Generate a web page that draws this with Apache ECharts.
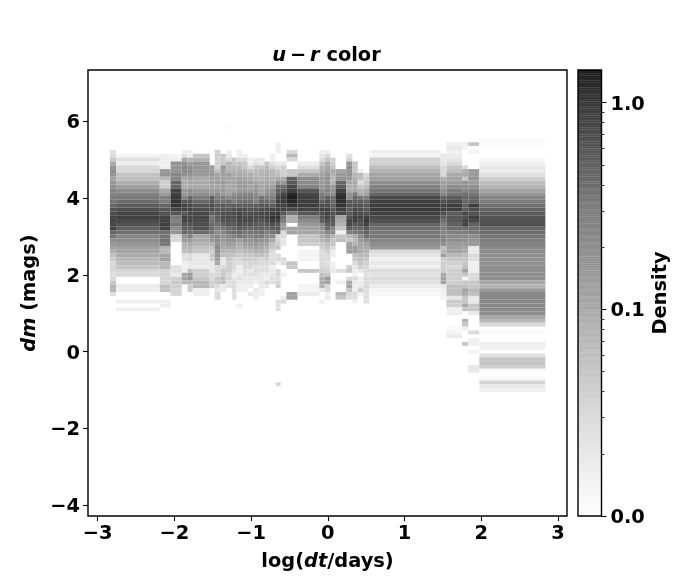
<!DOCTYPE html>
<html><head><meta charset="utf-8">
<style>html,body{margin:0;padding:0;background:#fff}#c{width:700px;height:580px}</style>
<script src="https://cdn.jsdelivr.net/npm/echarts@6/dist/echarts.min.js"></script>
</head><body><div id="c"></div>
<script>
const xEdges=[-2.84,-2.76,-2.19,-2.05,-1.905,-1.83,-1.76,-1.54,-1.475,-1.40,-1.33,-1.25,-1.19,-1.11,-1.045,-.97,-.90,-.825,-.76,-.68,-.615,-.54,-.395,-.11,-.04,.035,.10,.24,.32,.39,.465,.54,1.47,1.545,1.75,1.83,1.975,2.835];
const columnTop=[5.25,5.15,5.15,5.15,5.25,5.25,5.15,4.85,5.25,5.15,5.25,5.05,5.25,5.15,5.05,5.05,5.05,4.95,5.15,5.45,4.95,5.25,4.95,5.25,5.25,5.05,4.75,5.15,4.95,4.75,4.65,5.25,5.15,5.45,5.45,5.45,5.55];
const bandHeight=0.1;
const c01=[.025,.028,.045,.1,.16,.2,.16,.125,.16,.2,.25,.25,.3,.36,.47,.65,.72,.8,.9,.8,.85,.47,.36,.2,.16,.125,.085,.06,.045,.03,.035,.03,.025,.03,.045,.07,.07,.025];
const c02=[.014,.025,.016,.03,.032,.055,.06,.09,.13,.2,.27,.33,.42,.55,.72,.85,.9,.75,.65,.5,.4,.24,.2,.16,.13,.12,.1,.07,.065,.05,.035,.03,0,0,.018,.016,0,0,.016,0,.016];
const c03=[.016,.016,.016,.016,.15,.17,.07,.04,.04,.1,.14,.27,.3,.47,.6,.62,.85,.85,.9,.85,.38,.36,.36,.34,.08,.07,.12,.12,.07,.07,.035,.035,.035,.035,.055,.055,0,0,.016,.016];
const c04=[.014,.016,.17,.17,.17,.24,.24,.45,.45,.85,.9,1.0,1.1,1.1,.85,.62,.3,.27,.35,.2,.17,.032,.03,0,0,0,0,0,0,.025,.025,.018,.04,.045,.04,.035,.035];
const c05=[.016,.025,.1,.2,.24,.22,.2,.1,.09,.09,.16,.16,.24,.6,.85,.85,.6,.9,.85,.6,.55,.45,.17,.15,.08,.07,.06,.025,.025,.016,.016,.016,.11,.12,.07];
const c06=[.016,.016,.07,.13,.2,.22,.18,.13,.11,.1,.2,.2,.45,.62,.75,.85,.8,.75,.8,.65,.5,.4,.3,.15,.1,.08,.07,.03,.03,.02,.02,.06,.14,.16,.07,.04,.04];
const c07=[.05,.08,.16,.16,.16,.14,.1,.1,.1,.15,.2,.3,.45,.62,.72,.8,.8,.75,.7,.65,.42,.11,.1,.08,.055,.05,.02,.02,.02,.018,.04,.04,.05,.07,.07,.016,.016];
const c08=[.14,.14,.16,.12,.13,.12,.14,.18,.55,.6,.75,.75,.55,.35,.4,.45,.42,.35,.2,.15,.08,.05,.04,.05,.04,.02,.02,.02,.03,.03,.04,.04];
const c09=[.04,.04,.04,.04,.035,.06,.11,.13,.13,.11,.15,.2,.27,.4,.55,.6,.6,.55,.5,.4,.3,.22,.22,.2,.18,.22,.2,.17,.13,.11,.03,.03,.03,.05,.05,.03,.02,.03,.03];
const c10=[.05,.05,.05,.16,.14,.13,.12,.15,.14,.15,.15,.3,.38,.6,.62,.7,.7,.65,.5,.35,.25,.18,.15,.12,.1,.08,.06,.02,.02,.03,.045,.05,.06,.06,.018,.018];
const c11=[.016,.02,.03,.07,.07,.08,.13,.11,.11,.1,.12,.13,.22,.4,.5,.6,.72,.72,.65,.6,.4,.35,.22,.17,.14,.1,.07,.06,.05,.04,.04,.04,.03,.035,.025,.025];
const c12=[.05,.05,.07,.08,.1,.11,.11,.11,.12,.2,.27,.3,.55,.68,.72,.7,.65,.55,.45,.42,.28,.18,.13,.1,.08,.055,.035,.03,.03,.025,.016,.02,.03,.03,.025,.025,.025];
const c13=[.016,.016,.03,.05,.07,.09,.1,.13,.15,.16,.15,.22,.3,.4,.55,.72,.85,.85,.8,.7,.55,.45,.35,.14,.1,.08,.06,.045,.035,.03,.016,.016,.02,.025,.018,.016,.016,0,0,0,.016];
const c14=[.016,.03,.05,.05,.08,.09,.11,.14,.15,.16,.25,.3,.4,.55,.7,.72,.75,.8,.65,.5,.35,.3,.2,.14,.1,.07,.05,.045,.03,.03,.025,.025,.02,.018,.016,.016];
const c15=[.016,.016,.03,.06,.09,.1,.13,.12,.14,.25,.3,.4,.55,.65,.72,.8,.8,.65,.45,.35,.25,.17,.14,.1,.07,.05,.04,.035,.03,.02,.025,.02,.02,.016,0,.02];
const c16=[.02,.025,.05,.06,.07,.09,.12,.15,.17,.2,.25,.3,.55,.65,.75,.75,.7,.6,.5,.35,.3,.2,.16,.12,.09,.055,.04,.035,.025,.03,.025,.018,.016,0,.02,.016,.016];
const c17=[.02,.02,.05,.07,.08,.08,.1,.11,.12,.13,.35,.45,.6,.75,.8,.75,.65,.55,.5,.4,.3,.18,.13,.1,.08,.06,.035,.03,.025,.025,.02,.02,.02,.018,.016,.016];
const c18=[.05,.07,.08,.09,.1,.12,.13,.16,.2,.3,.45,.6,.8,.85,.85,.75,.6,.45,.3,.22,.17,.12,.08,.07,.05,.04,.03,.025,.025,.018,.016,.03,.02];
const c19=[.016,.016,.025,.04,.07,.07,.09,.1,.13,.18,.22,.27,.4,.55,.85,.95,1.05,1.0,.7,.55,.35,.22,.1,.06,.05,.03,.025,.025,.03,.016,.018,.02,.025,.025];
const c20=[.016,.016,.016,0,0,.02,.03,.05,.06,.1,.2,.4,.5,.6,.8,.9,.9,.9,1.0,1.1,.9,.6,.6,.45,.03,.035,.04,.05,0,.03,.03,.016,0,.03,.03,.025,.035,.04,0,0,0,.025,.025,.025];
const c21=[.02,.04,.04,.04,.1,.15,.4,.55,.85,1.0,1.0,.9,.85,.6,.35,.3,.15,.15,.03,.03,.02,.02,0,0,0,.03,.025,0,0,.016,0,0,0,0,0,.016,.03];
const c22=[.03,.07,.03,0,0,.05,.05,.5,.6,.75,.9,1.3,1.4,1.3,1.1,.8,.35,.09,.09,0,.12,.12,0,0,0,0,0,0,0,.05,.045,0,0,0,0,0,0,.12,.12];
const c23=[.016,.025,.05,.1,.2,.22,.25,.6,.8,.9,.95,.95,.85,.6,.3,.22,.15,.12,.11,.05,.05,.04,0,.014,.014,.014,0,0,.05,0,0,0,.014,.014,.018];
const c24=[.016,.02,.03,.05,.08,.1,.12,.14,.15,.16,.2,.3,.35,.5,.7,.85,.7,.6,.55,.25,.18,.14,.1,.07,.05,.04,.03,.03,.03,.03,.03,.04,.06,.09,.1,.08,.02,0,0,.016];
const c25=[.016,.03,.05,.09,.11,.12,.16,.18,.18,.22,.25,.25,.5,.65,.72,.85,.9,.8,.7,.55,.45,.25,.14,.1,.06,.05,.04,.03,.03,.025,.03,.035,.05,.15,.12,.03,.03,.016,.02];
const c26=[.04,.04,.05,.1,.08,.07,.07,.15,.17,.2,.4,.45,.5,.6,.65,.65,.6,.55,.25,.22,.08,.05,.05,.03,.016,.016,0,.016,.016,.02];
const c27=[.12,.15,.17,.45,.55,.85,1.1,1.2,1.15,1.1,.9,.8,.12,.1,.08,.05,.015,.05,.06,0,0,0,0,0,0,0,.025,0,0,.016,0,0,.07,.05];
const c28=[.025,.035,.16,.2,.18,.17,.15,.1,.09,.1,.17,.2,.6,.65,.55,.6,.65,.85,.8,.55,.3,.07,.05,.12,.14,.14,0,0,0,.04,.05,0,.03,.1,.12,.05,.03,.025];
const c29=[.05,.05,.05,.08,.09,.1,.1,.11,.3,.45,.55,.7,.8,.85,.9,.9,.6,.45,.35,.1,.07,.08,.15,.14,.06,.05,.03,.02,.016,.016,.03,.02,.016,.016,.03,.025,.016];
const c30=[.016,.07,.06,.025,.05,.08,.1,.35,.55,.65,.7,.72,.85,.7,.65,.45,.38,.2,.14,.11,.1,.1,.07,.06,.05,.04,.02,0,.016,.016,.02,.04,.016];
const c31=[.03,.04,.045,.06,.1,.12,.3,.5,.6,.6,.65,.9,1.05,.9,.6,.5,.4,.2,.12,.1,.08,.07,.05,.04,.03,.028,.025,.028,.03,.03,.025,.025,.025,.025];
const c32=[.016,.014,.04,.04,.06,.08,.11,.13,.2,.27,.35,.47,.75,.9,.95,1.0,.9,.75,.65,.45,.4,.35,.34,.25,.2,.16,.03,.022,.016,.02,.016,.028,.024,.03,.025,.018,.014,.012];
const c33=[.02,.02,.022,.03,.03,.03,.09,.13,.14,.2,.25,.5,.7,.85,.9,.7,.5,.4,.3,.3,.25,.27,.25,.2,.06,.07,.13,.04,.04,.04,.04,.1,.12,.12,.02,.016,.014,.014];
const c34=[.016,.02,.016,.018,.022,.03,.05,.06,.1,.12,.14,.2,.3,.35,.55,.75,.95,.9,.55,.6,.62,.5,.4,.28,.22,.2,.15,.13,.12,.07,.05,.04,.03,.04,.04,.04,.04,.06,.06,.06,.02,.045,.04,.016,.016,0,0,0,.012,.014,.018];
const c35=[.016,.014,0,0,0,0,.03,.09,.1,.05,.17,.2,.25,.4,.45,.45,.5,.55,.8,.7,.85,.85,.4,.3,.22,.18,.15,.11,.1,.06,.05,.05,.06,.12,.05,.014,.05,.06,.12,.1,.05,.05,.1,.05,0,0,.08,.05,.016,0,0,0,.05];
const c36=[.05,0,.014,0,0,0,0,.14,.14,.17,.14,.2,.28,.35,.45,.5,.95,.7,.65,.9,.8,.5,.4,.35,.2,.17,.16,.02,.018,.03,.025,.016,.016,.016,.03,.03,.05,.05,.07,.06,.02,.02,.05,.05,.018,0,0,0,0,.03,0,.016,.016,0,.014,0,0,0,.02,.02];
const c37=[.012,.011,0,0,0,.012,.016,.02,.018,.025,.04,.06,.08,.12,.17,.25,.3,.4,.47,.55,.62,.65,.68,.47,.42,.37,.3,.27,.24,.22,.2,.2,.2,.2,.2,.2,.2,.11,.08,.16,.23,.24,.24,.23,.22,.2,.11,.07,.03,0,.012,0,0,.016,.016,0,.025,.05,.055,.04,.011,0,.012,.035,.02,.016];
const densityColumns=[c01,c02,c03,c04,c05,c06,c07,c08,c09,c10,c11,c12,c13,c14,c15,c16,c17,c18,c19,c20,c21,c22,c23,c24,c25,c26,c27,c28,c29,c30,c31,c32,c33,c34,c35,c36,c37];
const isolatedX0=[-.68,-1.33],isolatedX1=[-.615,-1.25],isolatedTop=[-.8,5.9],isolatedDensity=[.03,.011];

const xTicks=[-3,-2,-1,0,1,2,3];
const yTicks=[-4,-2,0,2,4,6];
const cbarMajor=[.01,.1,1];
const cbarMajorLabels=['0.0','0.1','1.0'];
const cbarMinor=[.02,.03,.04,.05,.06,.07,.08,.09,.2,.3,.4,.5,.6,.7,.8,.9];
const densityMax=1.44,densityMin=.01;

const rampT=[0,.24,.463,.70,.926,1];
const rampG=[255,215,170,122,58,30];
function grey(d){
  const t=Math.max(0,Math.min(1,(Math.log10(d)-Math.log10(densityMin))/(Math.log10(densityMax)-Math.log10(densityMin))));
  let i=0;while(i<rampT.length-2&&t>rampT[i+1])i++;
  const g=Math.round(rampG[i]+(rampG[i+1]-rampG[i])*(t-rampT[i])/(rampT[i+1]-rampT[i]));
  return `rgb(${g},${g},${g})`;
}
const cells=[];
densityColumns.forEach((col,k)=>{
  col.forEach((d,j)=>{ if(d>0)cells.push([xEdges[k],xEdges[k+1],columnTop[k]-j*bandHeight,d]); });
});
isolatedDensity.forEach((d,i)=>cells.push([isolatedX0[i],isolatedX1[i],isolatedTop[i],d]));

const cbarLevels=[];const lo=Math.log10(densityMin),hi=Math.log10(densityMax),N=256;
for(let i=0;i<N;i++)cbarLevels.push([lo+(hi-lo)*i/N,lo+(hi-lo)*(i+1)/N]);

const F='"DejaVu Sans"';
const fs=19.4;
const rich={i:{fontFamily:F,fontSize:fs,fontWeight:'bold',fontStyle:'italic',color:'#000'},b:{fontFamily:F,fontSize:fs,fontWeight:'bold',color:'#000'}};
const lab=v=>String(v).replace('-','\u2212');
const chart=echarts.init(document.getElementById('c'),null,{renderer:'canvas'});
chart.setOption({
  animation:false,backgroundColor:'#fff',
  title:{text:'{i|u}{b|\u2009\u2212\u2009}{i|r}{b| color}',left:321.5,top:41,textAlign:'center',textStyle:{rich}},
  grid:[
    {left:88,top:70,width:479,height:446,show:true,borderColor:'#000',borderWidth:1.4,backgroundColor:'#fff'},
    {left:578,top:70,width:23.5,height:446,show:true,borderColor:'#000',borderWidth:1.4,z:10,backgroundColor:'transparent'}
  ],
  xAxis:[
    {gridIndex:0,type:'value',min:-3.126,max:3.117,splitLine:{show:false},axisLine:{show:false,onZero:false},
     axisTick:{show:true,length:5,customValues:xTicks,lineStyle:{color:'#000',width:1.1}},
     axisLabel:{customValues:xTicks,formatter:lab,margin:8,color:'#000',fontFamily:F,fontSize:fs,fontWeight:'bold'},
     name:'log({i|dt}{b|/days)}',nameLocation:'center',nameGap:36,nameTextStyle:{fontFamily:F,fontSize:fs,fontWeight:'bold',color:'#000',rich}},
    {gridIndex:1,type:'value',min:0,max:1,show:false}
  ],
  yAxis:[
    {gridIndex:0,type:'value',min:-4.28,max:7.33,splitLine:{show:false},axisLine:{show:false,onZero:false},
     axisTick:{show:true,length:5,customValues:yTicks,lineStyle:{color:'#000',width:1.1}},
     axisLabel:{customValues:yTicks,formatter:lab,margin:8,verticalAlign:'top',lineHeight:4,color:'#000',fontFamily:F,fontSize:fs,fontWeight:'bold'},
     name:'{i|dm}{b| (mags)}',nameLocation:'center',nameGap:49,nameRotate:90,nameTextStyle:{rich}},
    {gridIndex:1,type:'value',position:'right',min:lo,max:hi,splitLine:{show:false},axisLine:{show:false,onZero:false},
     axisTick:{show:true,length:5,customValues:cbarMajor.map(Math.log10),lineStyle:{color:'#000',width:1.1}},
     axisLabel:{customValues:cbarMajor.map(Math.log10),formatter:v=>cbarMajorLabels[Math.round(v+2)],margin:9,verticalAlign:'top',lineHeight:4,color:'#000',fontFamily:F,fontSize:fs,fontWeight:'bold'},
     name:'Density',nameLocation:'center',nameGap:50,nameRotate:90,nameTextStyle:{fontFamily:F,fontSize:fs,fontWeight:'bold',color:'#000'}},
    {gridIndex:1,type:'value',position:'right',min:lo,max:hi,splitLine:{show:false},axisLine:{show:false,onZero:false},
     axisTick:{show:true,length:3,customValues:cbarMinor.map(Math.log10),lineStyle:{color:'#000',width:.8}},
     axisLabel:{show:false}}
  ],
  series:[
    {type:'custom',xAxisIndex:0,yAxisIndex:0,data:cells,clip:true,silent:true,
     renderItem:(p,api)=>{
       const a=api.coord([api.value(0),api.value(2)]),b=api.coord([api.value(1),api.value(2)-bandHeight]);
       return {type:'rect',shape:{x:a[0],y:a[1],width:b[0]-a[0],height:b[1]-a[1]},style:{fill:grey(api.value(3)),stroke:null}};
     }},
    {type:'custom',xAxisIndex:1,yAxisIndex:1,data:cbarLevels,clip:true,silent:true,
     renderItem:(p,api)=>{
       const a=api.coord([0,api.value(1)]),b=api.coord([1,api.value(0)]);
       return {type:'rect',shape:{x:a[0],y:a[1],width:b[0]-a[0],height:b[1]-a[1]+.3},style:{fill:grey(Math.pow(10,(api.value(0)+api.value(1))/2)),stroke:null}};
     }}
  ]
});
</script></body></html>
